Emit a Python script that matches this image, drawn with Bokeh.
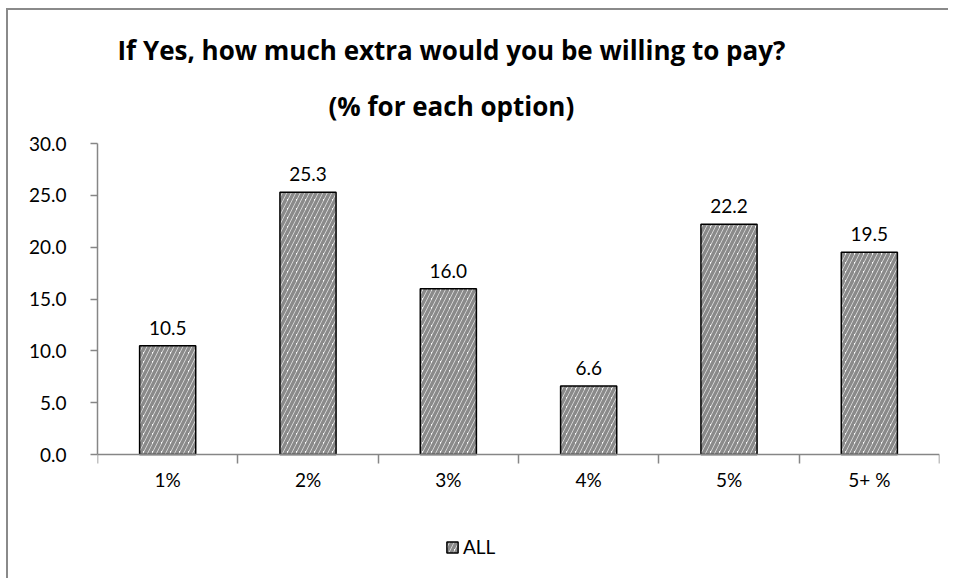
from bokeh.plotting import figure
from bokeh.models import (ColumnDataSource, FixedTicker, Legend, LegendItem, Title, Range1d)
from bokeh.embed import file_html
from bokeh.resources import INLINE
from bokeh.core.properties import value

categories = ["1%", "2%", "3%", "4%", "5%", "5+ %"]
values = [10.5, 25.3, 16.0, 6.6, 22.2, 19.5]
series_name = "ALL"
y_ticks = [0, 5, 10, 15, 20, 25, 30]
title_lines = ["If Yes, how much extra would you be willing to pay?", "(% for each option)"]

FONT = "Lato"
TITLE_FONT = "Open Sans"
AXIS_COLOR = "#868686"

centers = [i + 0.5 for i in range(len(categories))]
source = ColumnDataSource(dict(
    x=centers,
    top=values,
    label=["%.1f" % v for v in values],
))
cat_source = ColumnDataSource(dict(x=centers, y=[0] * len(categories), text=categories))

# frame extends below zero so that the legend can sit inside it
p = figure(width=942, height=570, output_backend="svg", toolbar_location=None,
           x_range=Range1d(0, len(categories)), y_range=Range1d(-10.61, 30),
           min_border_left=89, min_border_right=11, min_border_top=133, min_border_bottom=16)
p.styles = {"border-left": "2px solid #8a8a8a", "border-top": "2px solid #8a8a8a",
            "margin-left": "6px", "margin-top": "8px"}
p.outline_line_color = None
p.grid.visible = False
p.background_fill_color = "white"
p.border_fill_color = "white"

r = p.vbar(x="x", top="top", width=0.4, bottom=0, source=source,
           fill_color="white", line_color="black", line_width=1.5,
           hatch_pattern="/", hatch_color="#8a8a8a", hatch_weight=3.5, hatch_scale=9)

p.text(x="x", y="top", text="label", source=source, text_align="center",
       text_baseline="bottom", y_offset=-11, text_font=value(FONT),
       text_font_size="19px", text_color="black")

# category labels under the axis
p.text(x="x", y="y", text="text", source=cat_source, text_align="center",
       text_baseline="middle", y_offset=25, text_font=value(FONT),
       text_font_size="19px", text_color="black")

# y axis
ya = p.yaxis[0]
ya.ticker = FixedTicker(ticks=y_ticks)
ya.bounds = (0, 30)
ya.major_label_overrides = {t: "%.1f" % t for t in y_ticks}
ya.major_tick_in = 0
ya.major_tick_out = 7
ya.minor_tick_out = 0
ya.minor_tick_in = 0
ya.axis_line_color = AXIS_COLOR
ya.major_tick_line_color = AXIS_COLOR
ya.axis_line_width = 1.5
ya.major_tick_line_width = 1.5
ya.major_label_text_font = FONT
ya.major_label_text_font_size = "19px"
ya.major_label_text_color = "black"
ya.major_label_standoff = 24

# x axis at y = 0: ticks at category boundaries
xa = p.xaxis[0]
xa.fixed_location = 0
xa.ticker = FixedTicker(ticks=[], minor_ticks=list(range(len(categories) + 1)))
xa.major_label_text_font_size = "0px"
xa.major_label_standoff = 0
xa.major_tick_in = 0
xa.major_tick_out = 0
xa.minor_tick_in = 0
xa.minor_tick_out = 9
xa.axis_line_color = AXIS_COLOR
xa.minor_tick_line_color = AXIS_COLOR
xa.axis_line_width = 1.5
xa.minor_tick_line_width = 1.5

p.title = Title(text=title_lines[0], align="left", offset=20,
                text_font=TITLE_FONT, text_font_size="26px", text_font_style="bold",
                text_color="black", standoff=-4)
p.add_layout(Title(text=title_lines[1], align="left", offset=231,
                   text_font=TITLE_FONT, text_font_size="26px", text_font_style="bold",
                   text_color="black", standoff=40), "above")

legend = Legend(items=[LegendItem(label=series_name, renderers=[r])],
                orientation="horizontal", location=(346, 4),
                label_text_font=FONT, label_text_font_size="19px", label_text_color="black",
                glyph_width=14, glyph_height=14, label_standoff=4,
                border_line_alpha=0, background_fill_alpha=0, padding=2, margin=0)
p.add_layout(legend, "center")

open("out.html", "w").write(file_html(p, INLINE))
